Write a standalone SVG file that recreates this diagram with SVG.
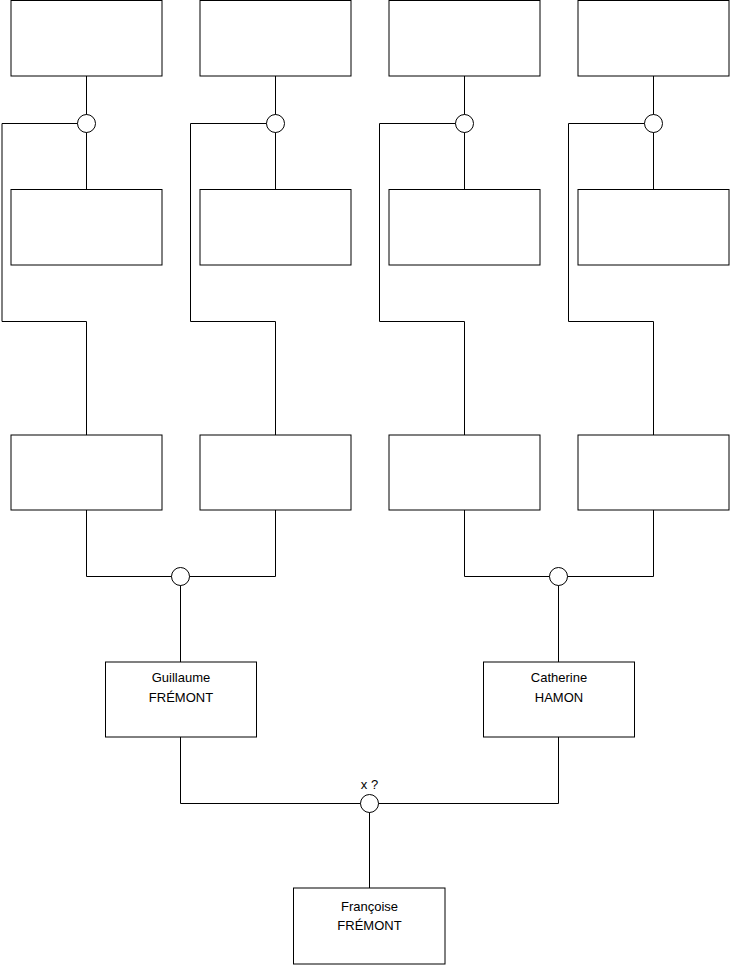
<svg xmlns="http://www.w3.org/2000/svg" width="740" height="975" viewBox="0 0 740 975">
<style>
.box{fill:#fff;stroke:#000;stroke-width:1}
.ln{fill:none;stroke:#000;stroke-width:1}
.dot{fill:#fff;stroke:#000;stroke-width:1}
.t{font-family:"Liberation Sans",Arial,sans-serif;font-size:13px;fill:#000;text-anchor:middle}
</style>
<rect width="740" height="975" fill="#fff"/>
<g id="connectors">
<path class="ln" d="M86.5,76V189.5M2,123.5H86.5M2,123.5V321.5H86.5V435"/>
<path class="ln" d="M275.5,76V189.5M190.5,123.5H275.5M190.5,123.5V321.5H275.5V435"/>
<path class="ln" d="M464.5,76V189.5M379.5,123.5H464.5M379.5,123.5V321.5H464.5V435"/>
<path class="ln" d="M653.5,76V189.5M568.5,123.5H653.5M568.5,123.5V321.5H653.5V435"/>
<path class="ln" d="M86.5,510V576.5H275.5V510M180.5,576.5V662"/>
<path class="ln" d="M464.5,510V576.5H653.5V510M558.5,576.5V662"/>
<path class="ln" d="M180.5,737V803.5H558.5V737M369.5,803.5V888"/>
<circle class="dot" cx="86.5" cy="123.5" r="9"/>
<circle class="dot" cx="275.5" cy="123.5" r="9"/>
<circle class="dot" cx="464.5" cy="123.5" r="9"/>
<circle class="dot" cx="653.5" cy="123.5" r="9"/>
<circle class="dot" cx="180.5" cy="576.5" r="9"/>
<circle class="dot" cx="558.5" cy="576.5" r="9"/>
<circle class="dot" cx="369.5" cy="803.5" r="9"/>
<text class="t" x="369.5" y="789">x ?</text>
</g>
<g id="n1"><rect class="box" x="11" y="0.5" width="151" height="75.5"/></g>
<g id="n2"><rect class="box" x="200" y="0.5" width="151" height="75.5"/></g>
<g id="n3"><rect class="box" x="389" y="0.5" width="151" height="75.5"/></g>
<g id="n4"><rect class="box" x="578" y="0.5" width="151" height="75.5"/></g>
<g id="n5"><rect class="box" x="11" y="189.5" width="151" height="75.5"/></g>
<g id="n6"><rect class="box" x="200" y="189.5" width="151" height="75.5"/></g>
<g id="n7"><rect class="box" x="389" y="189.5" width="151" height="75.5"/></g>
<g id="n8"><rect class="box" x="578" y="189.5" width="151" height="75.5"/></g>
<g id="n9"><rect class="box" x="11" y="435" width="151" height="75"/></g>
<g id="n10"><rect class="box" x="200" y="435" width="151" height="75"/></g>
<g id="n11"><rect class="box" x="389" y="435" width="151" height="75"/></g>
<g id="n12"><rect class="box" x="578" y="435" width="151" height="75"/></g>
<g id="guillaume"><rect class="box" x="105.5" y="662" width="151" height="75"/>
<text class="t" x="181" y="682">Guillaume</text><text class="t" x="181" y="702">FRÉMONT</text></g>
<g id="catherine"><rect class="box" x="483.5" y="662" width="151" height="75"/>
<text class="t" x="559" y="682">Catherine</text><text class="t" x="559" y="702">HAMON</text></g>
<g id="francoise"><rect class="box" x="293.5" y="888" width="151.5" height="76"/>
<text class="t" x="369.5" y="910.5">Françoise</text><text class="t" x="369.5" y="930">FRÉMONT</text></g>
</svg>
